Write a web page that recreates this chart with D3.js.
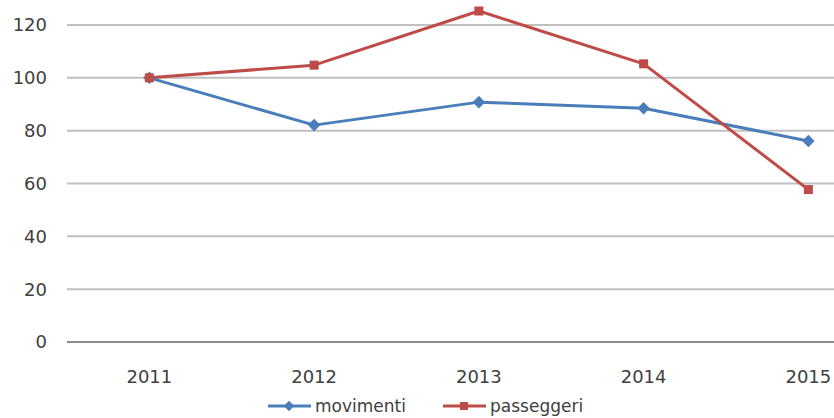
<!DOCTYPE html>
<html><head><meta charset="utf-8">
<script src="https://cdn.jsdelivr.net/npm/d3@7"></script>
<style>body{margin:0;background:#fff;overflow:hidden}svg{display:block}</style>
</head><body>
<svg id="c" width="834" height="418"></svg>
<script>
const years = ["2011","2012","2013","2014","2015"];
const movimenti = [100, 82.1, 90.8, 88.5, 76.1];
const passeggeri = [100, 104.8, 125.3, 105.3, 57.7];
const yTicks = [0,20,40,60,80,100,120];
const seriesNames = ["movimenti","passeggeri"];
const colors = ["#4a7ebb","#be4b48"];

const svg = d3.select("#c");
const left = 67, bandW = 164.75;
const x = d3.scalePoint().domain(years).range([left + bandW/2, left + bandW*4.5]);
const y = d3.scaleLinear().domain([0,120]).range([342, 25]);
const font = "Verdana, 'DejaVu Sans', sans-serif";
const fs = 18;

// gridlines
svg.append("g").selectAll("line").data(yTicks).join("line")
  .attr("x1", left).attr("x2", 834)
  .attr("y1", d=>y(d)).attr("y2", d=>y(d))
  .attr("stroke", d=> d===0 ? "#8c8c8c" : "#c0c0c0").attr("stroke-width", 2);

// y labels
svg.append("g").selectAll("text").data(yTicks).join("text")
  .attr("x", 47).attr("y", d=>y(d)).attr("dy","0.36em")
  .attr("text-anchor","end").attr("font-family",font).attr("font-size",fs).attr("fill","#404040")
  .text(d=>d);

// x labels
svg.append("g").selectAll("text").data(years).join("text")
  .attr("x", d=>x(d)).attr("y", 383)
  .attr("text-anchor","middle").attr("font-family",font).attr("font-size",fs).attr("fill","#404040")
  .text(d=>d);

const line = d3.line().x((d,i)=>x(years[i])).y(d=>y(d));
[movimenti, passeggeri].forEach((s,k)=>{
  svg.append("path").datum(s).attr("d", line).attr("fill","none")
    .attr("stroke", colors[k]).attr("stroke-width", 3).attr("stroke-linejoin","round");
});
// markers
svg.append("g").selectAll("path").data(movimenti).join("path")
  .attr("transform",(d,i)=>`translate(${x(years[i])},${y(d)})`)
  .attr("d", d3.symbol().type(d3.symbolDiamond2).size(100)).attr("fill", colors[0]);
svg.append("g").selectAll("rect").data(passeggeri).join("rect")
  .attr("x",(d,i)=>x(years[i])-4.5).attr("y",d=>y(d)-4.5).attr("width",9).attr("height",9)
  .attr("fill", colors[1]);

// legend
const lg = svg.append("g");
const legX = [268, 443];
seriesNames.forEach((n,k)=>{
  const g = lg.append("g").attr("transform",`translate(${legX[k]},406)`);
  g.append("line").attr("x1",0).attr("x2",43).attr("stroke",colors[k]).attr("stroke-width",3);
  if(k===0) g.append("path").attr("transform","translate(21,0)").attr("d",d3.symbol().type(d3.symbolDiamond2).size(70)).attr("fill",colors[k]);
  else g.append("rect").attr("x",17).attr("y",-4).attr("width",8).attr("height",8).attr("fill",colors[k]);
  g.append("text").attr("x",47).attr("dy","0.33em").attr("font-family",font).attr("font-size",17).attr("fill","#404040").text(n);
});
</script>
</body></html>
